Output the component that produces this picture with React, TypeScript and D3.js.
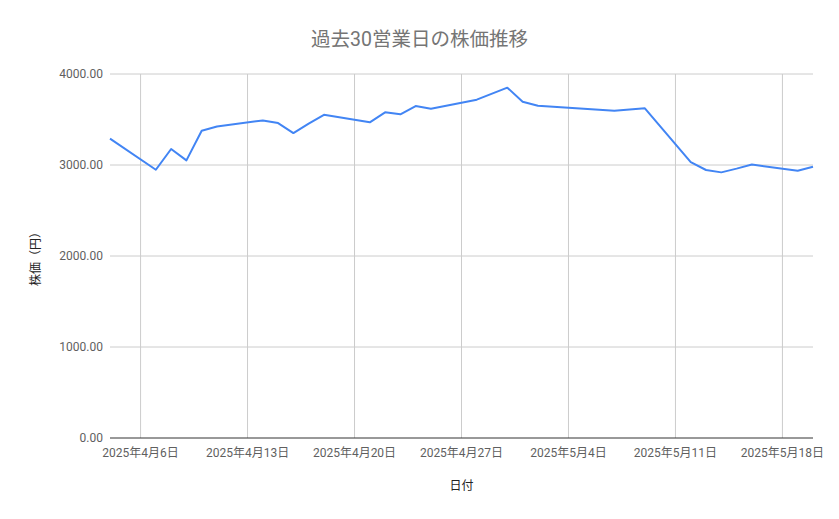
import * as d3 from 'd3'

const dates = [
  '2025-04-04', '2025-04-07', '2025-04-08', '2025-04-09', '2025-04-10', '2025-04-11',
  '2025-04-14', '2025-04-15', '2025-04-16', '2025-04-17', '2025-04-18',
  '2025-04-21', '2025-04-22', '2025-04-23', '2025-04-24', '2025-04-25',
  '2025-04-28', '2025-04-30', '2025-05-01', '2025-05-02',
  '2025-05-07', '2025-05-08', '2025-05-09',
  '2025-05-12', '2025-05-13', '2025-05-14', '2025-05-15', '2025-05-16',
  '2025-05-19', '2025-05-20',
]
const prices = [
  3289, 2948, 3176, 3051, 3377, 3424,
  3490, 3461, 3351, 3455, 3552,
  3469, 3579, 3557, 3648, 3619,
  3718, 3850, 3696, 3652,
  3597, 3610, 3623,
  3032, 2945, 2919, 2960, 3005,
  2937, 2980,
]
const xTicks = ['2025-04-06', '2025-04-13', '2025-04-20', '2025-04-27', '2025-05-04', '2025-05-11', '2025-05-18']
const yTicks = [0, 1000, 2000, 3000, 4000]

const title = '過去30営業日の株価推移'
const xTitle = '日付'
const yTitle = '株価（円）'

const W = 839
const H = 519
const FONT = "Roboto, 'Noto Sans CJK JP', sans-serif"

const parse = d3.timeParse('%Y-%m-%d')

export default function App() {
  const points = dates.map((d, i) => ({ date: parse(d)!, value: prices[i] }))
  const x = d3.scaleTime().domain([points[0].date, points[points.length - 1].date]).range([110, 813])
  const y = d3.scaleLinear().domain([0, 4000]).range([438, 74])
  const line = d3
    .line<{ date: Date; value: number }>()
    .x((d) => x(d.date))
    .y((d) => y(d.value))
  const fmtDate = (d: Date) => `${d.getFullYear()}年${d.getMonth() + 1}月${d.getDate()}日`
  const [x0, x1] = x.range()

  return (
    <svg
      width={W}
      height={H}
      style={{ position: 'absolute', left: 0, top: 0, background: '#fff' }}
      fontFamily={FONT}
    >
      <text x={W / 2} y={46} textAnchor="middle" fontSize={19.5} fill="#757575">
        {title}
      </text>

      {yTicks.map((t) => (
        <g key={t}>
          {t > 0 && <line x1={x0} x2={x1} y1={y(t)} y2={y(t)} stroke="#cccccc" strokeWidth={1} />}
          <text x={103} y={y(t)} textAnchor="end" dominantBaseline="central" fontSize={12} fill="#5f5f5f">
            {t.toFixed(2)}
          </text>
        </g>
      ))}

      {xTicks.map((s) => {
        const d = parse(s)!
        return (
          <g key={s}>
            <line x1={x(d)} x2={x(d)} y1={y(4000)} y2={y(0)} stroke="#cccccc" strokeWidth={1} />
            <text x={x(d)} y={457} textAnchor="middle" fontSize={12} fill="#5f5f5f">
              {fmtDate(d)}
            </text>
          </g>
        )
      })}

      <line x1={x0} x2={x1} y1={y(0)} y2={y(0)} stroke="#333333" strokeWidth={1} />

      <path d={line(points) ?? ''} fill="none" stroke="#4285f4" strokeWidth={2} strokeLinejoin="round" />

      <text x={(x0 + x1) / 2} y={490} textAnchor="middle" fontSize={12} fill="#222">
        {xTitle}
      </text>
      <text
        transform={`translate(36, ${(y(0) + y(4000)) / 2}) rotate(-90)`}
        textAnchor="middle"
        dominantBaseline="central"
        fontSize={12}
        fill="#222"
      >
        {yTitle}
      </text>
    </svg>
  )
}
